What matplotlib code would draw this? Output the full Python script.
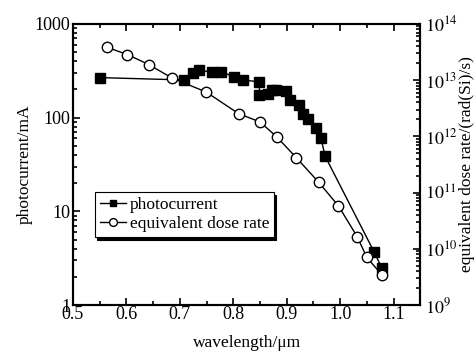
import numpy as np
import matplotlib.pyplot as plt
from matplotlib.ticker import LogLocator, NullFormatter, FixedLocator

plt.rcParams['font.family'] = ['Liberation Serif', 'DejaVu Serif']
plt.rcParams['mathtext.fontset'] = 'stix'

# photocurrent (mA), left axis
wl_pc = [0.55, 0.708, 0.724, 0.736, 0.760, 0.778, 0.801, 0.819, 0.849, 0.849,
         0.865, 0.872, 0.880, 0.898, 0.906, 0.924, 0.931, 0.939, 0.954, 0.964,
         0.972, 1.064, 1.078]
pc = [267, 252, 302, 318, 308, 308, 272, 251, 241, 176,
      180, 195, 198, 193, 155, 136, 109, 97, 77, 61,
      38.7, 3.66, 2.49]

# equivalent dose rate (rad(Si)/s), right axis, log10 values
wl_dr = [0.563, 0.602, 0.642, 0.686, 0.749, 0.810, 0.850, 0.881, 0.918, 0.960,
         0.997, 1.032, 1.050, 1.079]
dr_log = [13.585, 13.454, 13.276, 13.033, 12.79, 12.404, 12.256, 11.995, 11.621, 11.183,
          10.762, 10.216, 9.849, 9.528]
dr = [10 ** v for v in dr_log]

fig = plt.figure(figsize=(4.77, 3.56), dpi=100)
ax = fig.add_axes([0.153, 0.143, 0.728, 0.79])
ax2 = ax.twinx()

l1, = ax.plot(wl_pc, pc, '-s', color='black', lw=1, ms=6.5, mfc='black', label='photocurrent')
l2, = ax2.plot(wl_dr, dr, '-o', color='black', lw=1, ms=7.5, mfc='white', mew=1, label='equivalent dose rate')

ax.set_xlim(0.5, 1.15)
ax.set_yscale('log')
ax.set_ylim(1, 1000)
ax2.set_yscale('log')
ax2.set_ylim(1e9, 1e14)

ax.set_xticks([0.5, 0.6, 0.7, 0.8, 0.9, 1.0, 1.1])
ax.set_xticklabels(['0.5', '0.6', '0.7', '0.8', '0.9', '1.0', '1.1'])
ax.xaxis.set_minor_locator(FixedLocator([0.55, 0.65, 0.75, 0.85, 0.95, 1.05]))
ax.set_yticks([1, 10, 100, 1000])
ax.set_yticklabels(['1', '10', '100', '1000'])
ax.yaxis.set_minor_locator(LogLocator(base=10, subs=np.arange(2, 10)))
ax.yaxis.set_minor_formatter(NullFormatter())
ax2.set_yticks([1e9, 1e10, 1e11, 1e12, 1e13, 1e14])
ax2.set_yticklabels([r'$10^{9}$', r'$10^{10}$', r'$10^{11}$', r'$10^{12}$', r'$10^{13}$', r'$10^{14}$'])
ax2.yaxis.set_minor_locator(LogLocator(base=10, subs=np.arange(2, 10)))
ax2.yaxis.set_minor_formatter(NullFormatter())

ax.tick_params(which='both', direction='in', top=True, labelsize=13, width=1.2)
ax.tick_params(which='major', length=5)
ax.tick_params(which='minor', length=3)
ax.tick_params(axis='x', pad=1)
ax.tick_params(axis='y', pad=2)
ax2.tick_params(which='both', direction='in', labelsize=13, width=1.2)
ax2.tick_params(which='major', length=5)
ax2.tick_params(which='minor', length=3)
for a in (ax, ax2):
    for s in a.spines.values():
        s.set_linewidth(1.5)

ax.set_xlabel('wavelength/μm', fontsize=12.5)
ax.xaxis.set_label_coords(0.5, -0.105)
ax.set_ylabel('photocurrent/mA', fontsize=12.5)
ax.yaxis.set_label_coords(-0.115, 0.5)
ax2.set_ylabel('equivalent dose rate/(rad(Si)/s)', fontsize=12.5)
ax2.yaxis.set_label_coords(1.112, 0.5)

leg = ax2.legend(handles=[l1, l2], loc='upper left', bbox_to_anchor=(0.063, 0.402),
                 borderaxespad=0, fontsize=12.5, fancybox=False, edgecolor='black',
                 shadow={'color': 'black', 'alpha': 1, 'ox': 1.5, 'oy': -2}, framealpha=1,
                 handlelength=1.5, handletextpad=0.2, borderpad=0.3, labelspacing=0.15,
                 markerscale=0.75)
leg.get_frame().set_linewidth(0.8)

fig.savefig('out.png', dpi=100)
